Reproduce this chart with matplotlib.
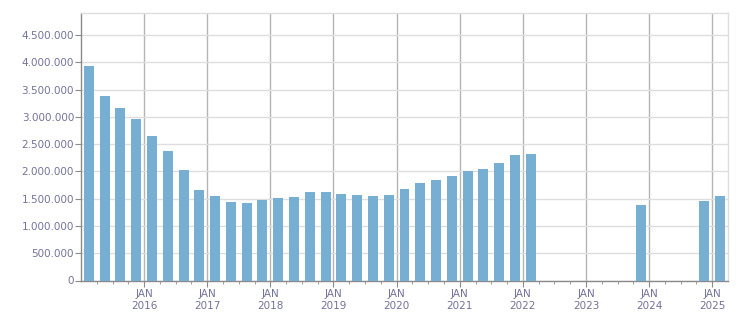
import matplotlib
matplotlib.use("Agg")
import matplotlib.pyplot as plt
from matplotlib.ticker import FuncFormatter, FixedLocator

quarters = ["2015Q1", "2015Q2", "2015Q3", "2015Q4",
            "2016Q1", "2016Q2", "2016Q3", "2016Q4",
            "2017Q1", "2017Q2", "2017Q3", "2017Q4",
            "2018Q1", "2018Q2", "2018Q3", "2018Q4",
            "2019Q1", "2019Q2", "2019Q3", "2019Q4",
            "2020Q1", "2020Q2", "2020Q3", "2020Q4",
            "2021Q1", "2021Q2", "2021Q3", "2021Q4",
            "2022Q1", "2023Q4", "2024Q4", "2025Q1"]
values = [3937000, 3386000, 3165000, 2963000,
          2651000, 2375000, 2026000, 1659000,
          1549000, 1439000, 1420000, 1475000,
          1512000, 1531000, 1622000, 1622000,
          1586000, 1567000, 1549000, 1567000,
          1678000, 1788000, 1843000, 1916000,
          2008000, 2045000, 2155000, 2302000,
          2320000, 1384000, 1457000, 1549000]
year_ticks = [2016, 2017, 2018, 2019, 2020, 2021, 2022, 2023, 2024, 2025]
tick_labels = ["JAN\n%d" % y for y in year_ticks]

def q_to_x(q):
    y = int(q[:4]); n = int(q[-1])
    return y + (n - 1) / 4 + 0.125

xs = [q_to_x(q) for q in quarters]

text_color = "#72729a"
fig = plt.figure(figsize=(7.51, 3.13), dpi=100)
ax = fig.add_axes([81/751, 1 - 280.5/313, (728 - 81)/751, (280.5 - 13)/313])

ax.bar(xs, values, width=0.158, color="#76afd2", zorder=3)

ax.set_xlim(2015.0, 2025.25)
ax.set_ylim(0, 4904000)

ax.set_yticks([i * 500000 for i in range(10)])
ax.yaxis.set_major_formatter(FuncFormatter(lambda v, p: f"{int(v):,}".replace(",", ".")))
ax.set_xticks(year_ticks)
ax.set_xticklabels(tick_labels)
minor = [2015 + i / 4 for i in range(1, 41) if i % 4 != 0]
ax.xaxis.set_minor_locator(FixedLocator(minor))

ax.grid(axis="y", color="#dedede", linewidth=1, zorder=0)
ax.grid(axis="x", which="major", color="#b4b4b4", linewidth=1, zorder=0)

for s in ["left", "bottom"]:
    ax.spines[s].set_color("#8a8a8a")
    ax.spines[s].set_linewidth(1)
for s in ["top", "right"]:
    ax.spines[s].set_color("#dedede")
    ax.spines[s].set_linewidth(1)

ax.tick_params(axis="y", length=4, color="#8a8a8a", labelsize=7.5, labelcolor=text_color, pad=1)
ax.tick_params(axis="x", which="major", length=4, color="#8a8a8a", labelsize=7.5, labelcolor=text_color, pad=2)
ax.tick_params(axis="x", which="minor", length=2, color="#8a8a8a")
for t in ax.get_xticklabels():
    t.set_linespacing(1.25)

fig.savefig("out.png", dpi=100)
